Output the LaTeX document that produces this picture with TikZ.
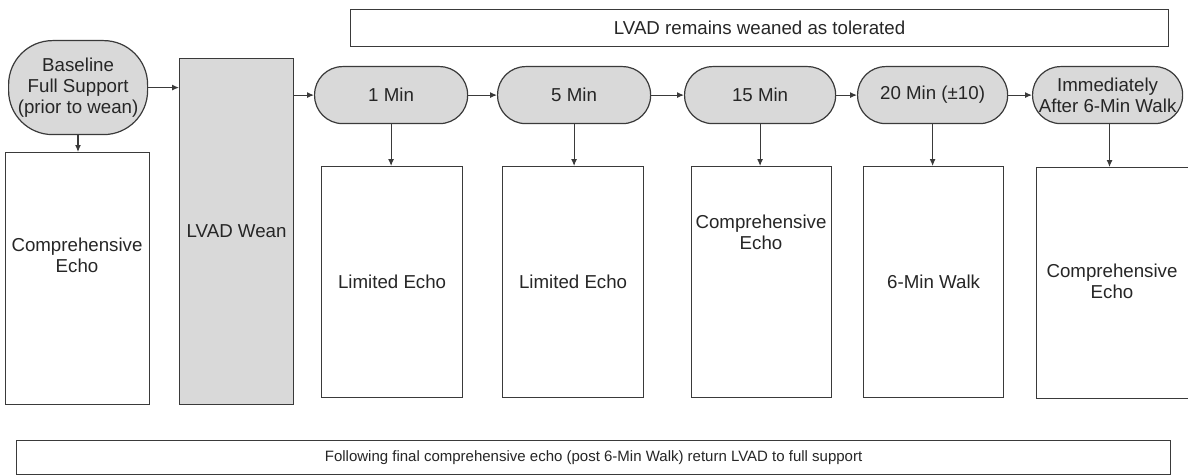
\documentclass[tikz,border=0pt]{standalone}
\usepackage{fontspec}
\setmainfont{Liberation Sans}
\usetikzlibrary{arrows.meta}
\definecolor{lc}{HTML}{3A3A3A}
\definecolor{gfill}{HTML}{D9D9D9}
\definecolor{tc}{HTML}{262626}
\tikzset{
  ln/.style={draw=lc, line width=1.2pt},
  wbox/.style={ln, fill=white, rectangle, inner sep=0pt, anchor=north west},
  gbox/.style={ln, fill=gfill, rectangle, inner sep=0pt, anchor=north west},
  pill/.style={ln, fill=gfill, rectangle, rounded corners=28pt, inner sep=0pt, anchor=north west, minimum height=57pt},
  arr/.style={draw=lc, line width=1.1pt, -{Latex[length=7pt,width=6pt]}},
  txt/.style={font=\fontsize{18.7}{21}\selectfont, align=center, text=tc, inner sep=0pt},
  bottxt/.style={font=\fontsize{15}{18}\selectfont, text=tc, inner sep=0pt},
}
\begin{document}
\begin{tikzpicture}[x=1pt,y=-1pt]
\useasboundingbox[fill=white] (0,0) rectangle (1188,476);
% top banner
\node[wbox, minimum width=818pt, minimum height=37pt] (top) at (350,9) {};
\node[txt] (toptext) at (top.center) {LVAD remains weaned as tolerated};
% baseline
\node[ln, fill=gfill, rectangle, rounded corners=44pt, inner sep=0pt, anchor=north west,
      minimum width=139pt, minimum height=94pt] (base) at (8,40) {};
\node[txt] (basetext) at (base.center) {Baseline\\Full Support\\(prior to wean)};
\node[wbox, minimum width=144pt, minimum height=252pt] (ce1) at (5,152) {};
\node[txt] (ce1text) at (77,255) {Comprehensive\\Echo};
% wean
\node[gbox, minimum width=114pt, minimum height=346pt] (wean) at (179,58) {};
\node[txt] (weantext) at (wean.center) {LVAD Wean};
% pills
\node[pill, minimum width=153pt] (m1) at (314,66) {};
\node[txt] (m1text) at (m1.center) {1 Min};
\node[pill, minimum width=153pt] (m5) at (497,66) {};
\node[txt] (m5text) at (m5.center) {5 Min};
\node[pill, minimum width=151pt] (m15) at (684,66) {};
\node[txt] (m15text) at (m15.center) {15 Min};
\node[pill, minimum width=150pt] (m20) at (857,66) {};
\node[txt] (m20text) at (m20.center) {20 Min (±10)};
\node[pill, minimum width=150pt] (imm) at (1032,66) {};
\node[txt] (immtext) at (imm.center) {Immediately\\After 6-Min Walk};
% boxes
\node[wbox, minimum width=141pt, minimum height=231pt] (b1) at (321,166) {};
\node[txt] (b1text) at (b1.center) {Limited Echo};
\node[wbox, minimum width=141pt, minimum height=231pt] (b5) at (502,166) {};
\node[txt] (b5text) at (b5.center) {Limited Echo};
\node[wbox, minimum width=140pt, minimum height=231pt] (b15) at (691,166) {};
\node[txt] (b15text) at (761,232) {Comprehensive\\Echo};
\node[wbox, minimum width=140pt, minimum height=231pt] (b20) at (863,166) {};
\node[txt] (b20text) at (b20.center) {6-Min Walk};
\node[wbox, minimum width=160pt, minimum height=231pt] (bimm) at (1036,167) {};
\node[txt] (bimmtext) at (1112,281) {Comprehensive\\Echo};
% bottom banner
\node[wbox, minimum width=1154pt, minimum height=34pt] (bot) at (16,440) {};
\node[bottxt] (bottext) at (bot.center) {Following final comprehensive echo (post 6-Min Walk) return LVAD to full support};
% arrows
\draw[arr] (base.east) -- (wean.west |- base.east);
\draw[arr] (wean.east |- m1.west) -- (m1.west);
\draw[arr] (m1.east) -- (m5.west);
\draw[arr] (m5.east) -- (m15.west);
\draw[arr] (m15.east) -- (m20.west);
\draw[arr] (m20.east) -- (imm.west);
\draw[arr] (base.south -| 78,0) -- (ce1.north -| 78,0);
\draw[arr] (m1.south) -- (m1.south |- b1.north);
\draw[arr] (m5.south) -- (m5.south |- b5.north);
\draw[arr] (m15.south) -- (m15.south |- b15.north);
\draw[arr] (m20.south) -- (m20.south |- b20.north);
\draw[arr] (imm.south -| 1109.5,0) -- (bimm.north -| 1109.5,0);
\end{tikzpicture}
\end{document}
